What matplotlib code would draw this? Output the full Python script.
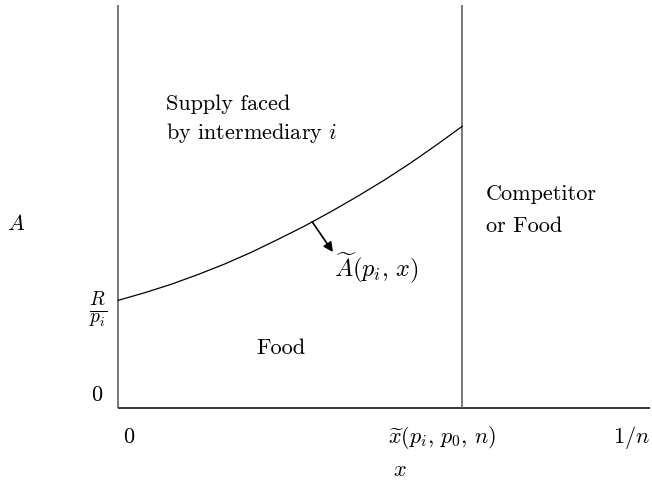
import matplotlib
matplotlib.use("Agg")
import matplotlib.pyplot as plt

plt.rcParams['mathtext.fontset'] = 'cm'
plt.rcParams['font.family'] = 'serif'
plt.rcParams['font.serif'] = ['cmr10', 'DejaVu Serif']
plt.rcParams['axes.unicode_minus'] = False

# Curve A~(p_i, x) (x as share of 1/n, A as share of axis height)
curve_x = [0.0, 0.05, 0.10, 0.15, 0.20, 0.25, 0.30, 0.35, 0.40, 0.45, 0.50, 0.55, 0.60, 0.647]
curve_A = [0.267, 0.286, 0.307, 0.331, 0.357, 0.386, 0.418, 0.451, 0.487, 0.525, 0.565, 0.608, 0.654, 0.699]
x_tilde = 0.647          # position of x~(p_i, p_0, n)
R_over_p = 0.267         # level of R/p_i
arrow_start = (0.365, 0.462)
arrow_end = (0.404, 0.387)

W, H = 652, 486
fig = plt.figure(figsize=(W / 100, H / 100), dpi=100)
ax = fig.add_axes([118 / W, (H - 408) / H, 532 / W, 403 / H])
ax.set_xlim(0, 1)
ax.set_ylim(0, 1)
ax.axis('off')

# axes lines
ax.plot([0, 1], [0, 0], color='black', lw=1.1, clip_on=False, solid_capstyle='butt')
ax.plot([0, 0], [0, 1], color='#555555', lw=1.1, clip_on=False, solid_capstyle='butt')
ax.plot([x_tilde, x_tilde], [0, 1], color='#555555', lw=1.1, clip_on=False, solid_capstyle='butt')

# curve
ax.plot(curve_x, curve_A, color='black', lw=0.9, clip_on=False)

# arrow
ax.annotate('', xy=arrow_end, xytext=arrow_start,
            arrowprops=dict(arrowstyle='-|>', color='black', lw=1.2,
                            mutation_scale=14, shrinkA=0, shrinkB=0))

fs = 16
mfs = 16
kw = dict(fontsize=fs, clip_on=False)
mkw = dict(fontsize=mfs, clip_on=False)
ax.text(0.090, 0.754, 'Supply faced', ha='left', va='center', **kw)
ax.text(0.090, 0.682, r'by intermediary $i$', ha='left', va='center', **kw)
ax.text(0.692, 0.531, 'Competitor', ha='left', va='center', **kw)
ax.text(0.692, 0.452, 'or Food', ha='left', va='center', **kw)
ax.text(0.306, 0.149, 'Food', ha='center', va='center', **kw)
ax.text(0.406, 0.348, r'$\widetilde{A}(p_i,\,x)$', ha='left', va='center', fontsize=17.5, clip_on=False)
ax.text(-0.192, 0.457, r'$A$', ha='center', va='center', **mkw)
ax.text(-0.038, R_over_p - 0.022, r'$\frac{R}{p_i}$', ha='center', va='center', fontsize=mfs + 4, clip_on=False)
ax.text(-0.041, 0.032, '0', ha='center', va='center', **kw)
ax.text(0.021, -0.072, '0', ha='center', va='center', **kw)
ax.text(x_tilde - 0.038, -0.072, r'$\widetilde{x}(p_i,\,p_0,\,n)$', ha='center', va='center', **mkw)
ax.text(0.966, -0.072, r'$1/n$', ha='center', va='center', **mkw)
ax.text(0.530, -0.154, r'$x$', ha='center', va='center', **mkw)

fig.savefig('out.png', dpi=100)
